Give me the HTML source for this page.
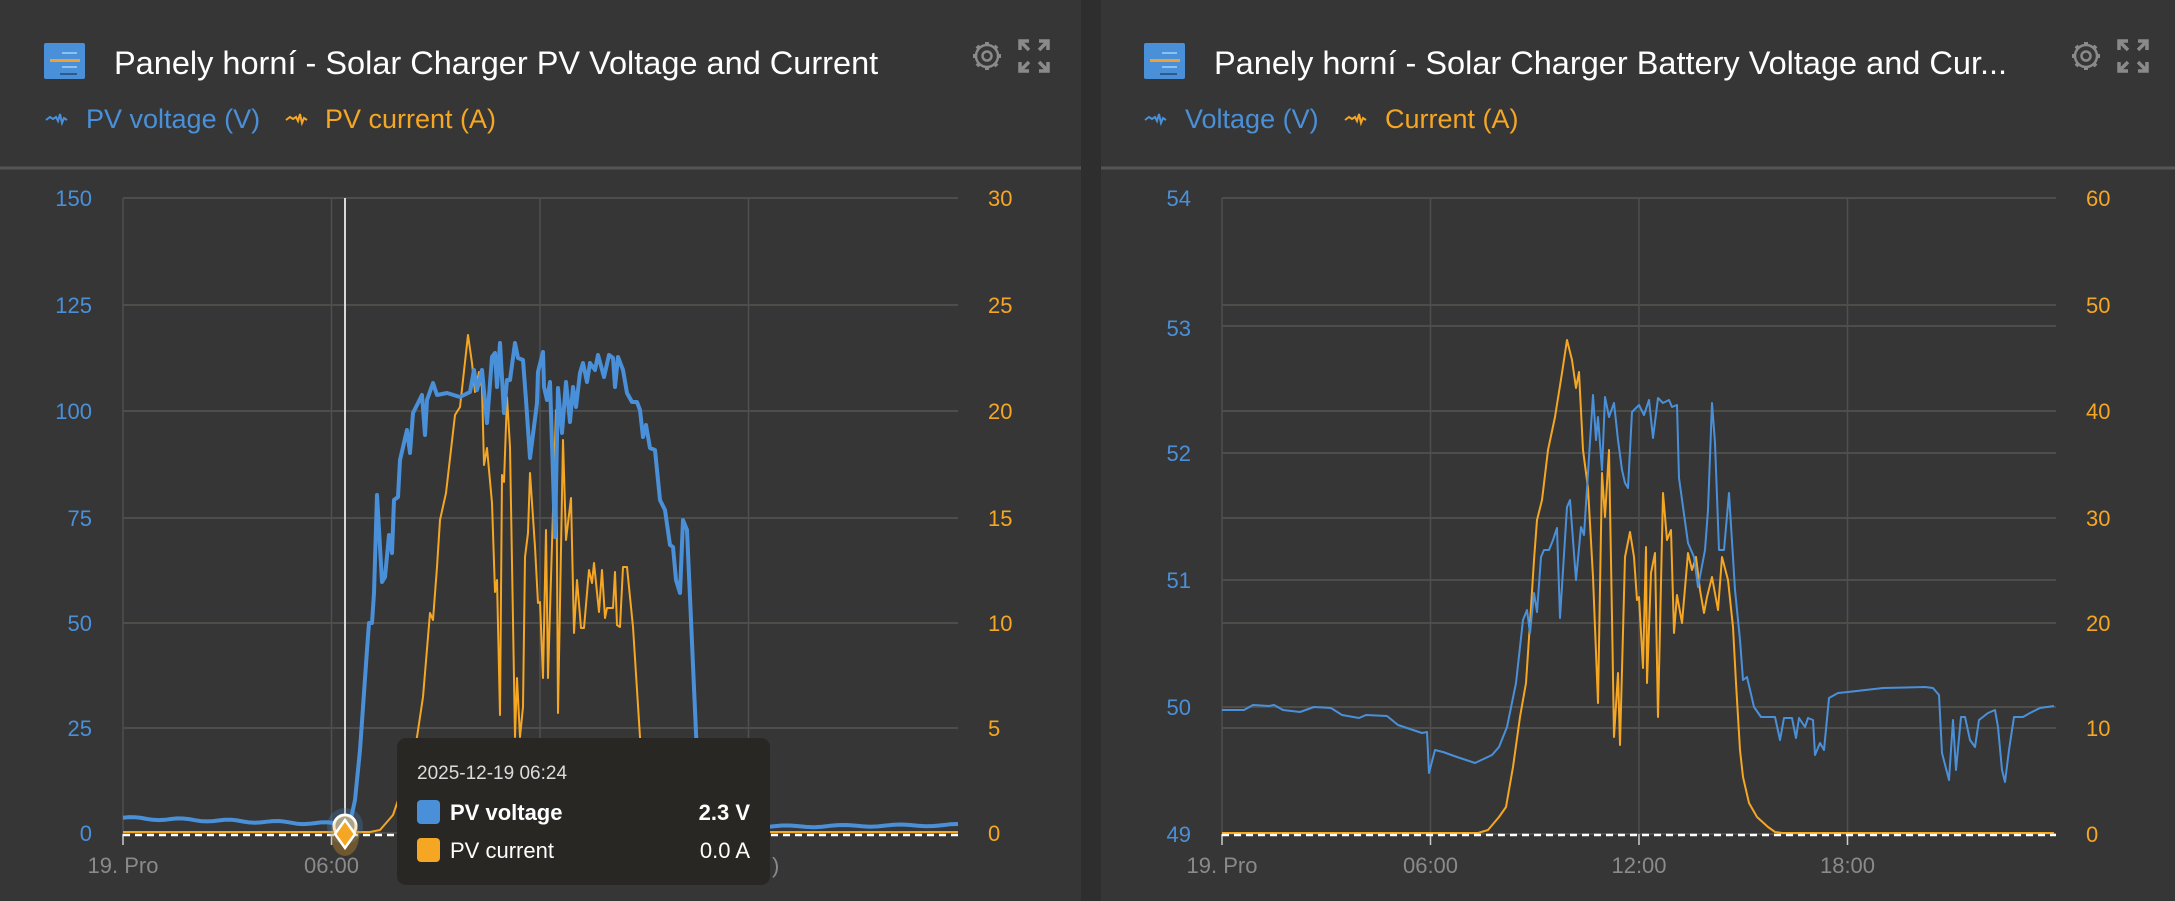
<!DOCTYPE html>
<html><head><meta charset="utf-8">
<style>
html,body{margin:0;padding:0;background:#2e2e2e;width:2175px;height:901px;overflow:hidden;font-family:"Liberation Sans",sans-serif;}
svg{display:block}
</style></head>
<body>
<svg id="s" width="2175" height="901" xmlns="http://www.w3.org/2000/svg" font-family="Liberation Sans, sans-serif">
<rect x="0" y="0" width="1081" height="901" fill="#363636"/>
<rect x="1101" y="0" width="1074" height="901" fill="#363636"/>
<line x1="0" y1="168" x2="1081" y2="168" stroke="#555" stroke-width="3"/>
<line x1="1101" y1="168" x2="2175" y2="168" stroke="#555" stroke-width="3"/>

<g id="ic1">
<rect x="44" y="43" width="41" height="36" rx="2" fill="#4a90d9"/>
<rect x="50" y="59" width="30" height="3" fill="#f0a030"/>
<rect x="62" y="52" width="15" height="2" fill="#8cc0ee"/>
<rect x="62" y="66" width="15" height="2" fill="#8cc0ee"/>
<rect x="60" y="73" width="17" height="2" fill="#2c5a8a"/>
</g>
<use href="#ic1" x="1100"/>
<text x="114" y="74" font-size="32.5" fill="#ffffff">Panely horní - Solar Charger PV Voltage and Current</text>
<text x="1214" y="74" font-size="32.5" fill="#ffffff">Panely horní - Solar Charger Battery Voltage and Cur...</text>
<g id="tools" fill="none" stroke="#8a8a8a" stroke-width="2.5">
<circle cx="987" cy="56" r="11"/><circle cx="987" cy="56" r="4.5"/>
<path d="M987 42v4M987 66v4M973 56h4M997 56h4M977 46l3 3M994 63l3 3M977 66l3-3M994 49l3-3" stroke-width="4"/>
<path d="M1020 50v-9h9M1020 41l9 9M1048 50v-9h-9M1048 41l-9 9M1020 62v9h9M1020 71l9-9M1048 62v9h-9M1048 71l-9-9" stroke-width="3.5"/>
</g>
<use href="#tools" x="1099"/>
<path d="M46 120 l4-3 3 2 3-2 2 4 2-7 2 9 2-5 3 2" fill="none" stroke="#4a90d9" stroke-width="2"/>
<text x="86" y="128" font-size="27" fill="#4a90d9">PV voltage (V)</text>
<path d="M286 120 l4-3 3 2 3-2 2 4 2-7 2 9 2-5 3 2" fill="none" stroke="#f5a623" stroke-width="2"/>
<text x="325" y="128" font-size="27" fill="#f5a623">PV current (A)</text>
<path d="M1145 120 l4-3 3 2 3-2 2 4 2-7 2 9 2-5 3 2" fill="none" stroke="#4a90d9" stroke-width="2"/>
<text x="1185" y="128" font-size="27" fill="#4a90d9">Voltage (V)</text>
<path d="M1345 120 l4-3 3 2 3-2 2 4 2-7 2 9 2-5 3 2" fill="none" stroke="#f5a623" stroke-width="2"/>
<text x="1385" y="128" font-size="27" fill="#f5a623">Current (A)</text>
<g id="grid"></g>
<g id="series"></g>
<g id="over"></g>
</svg>
<script>
var NS="http://www.w3.org/2000/svg";
function el(p,t,a,txt){var e=document.createElementNS(NS,t);for(var k in a)e.setAttribute(k,a[k]);if(txt!=null)e.textContent=txt;document.getElementById(p).appendChild(e);return e;}
var G="grid";
function chart(L,R,hy,leftLabs,rightLabs,xlabs){
  hy.forEach(function(y){el(G,"line",{x1:L,x2:R,y1:y,y2:y,stroke:"#4d4d49","stroke-width":2});});
  for(var i=0;i<4;i++){var x=L+208.5*i;el(G,"line",{x1:x,x2:x,y1:198,y2:834,stroke:"#4f4f4f","stroke-width":1.5});
    el(G,"line",{x1:x,x2:x,y1:834,y2:845,stroke:"#ccc","stroke-width":1.5});
    el(G,"text",{x:x,y:873,"font-size":22,fill:"#8a8a8a","text-anchor":"middle"},xlabs[i]);}
  leftLabs.forEach(function(l){el(G,"text",{x:L-31,y:l[1]+8,"font-size":22,fill:"#4a90d9","text-anchor":"end"},l[0]);});
  rightLabs.forEach(function(l){el(G,"text",{x:R+30,y:l[1]+8,"font-size":22,fill:"#f5a623","text-anchor":"start"},l[0]);});
}
chart(123,958,[198,305,411,518,623,728,833],
 [["150",198],["125",305],["100",411],["75",518],["50",623],["25",728],["0",833]],
 [["30",198],["25",305],["20",411],["15",518],["10",623],["5",728],["0",833]],
 ["19. Pro","06:00","12:00",""]);
chart(1222,2056,[198,326,453,580,707,305,411,518,623,728,834],
 [["54",198],["53",328],["52",453],["51",580],["50",707],["49",834]],
 [["60",198],["50",305],["40",411],["30",518],["20",623],["10",728],["0",834]],
 ["19. Pro","06:00","12:00","18:00"]);
var S="series";
function pl(pts,col,w){el(S,"polyline",{points:pts.map(function(p){return p.join(",")}).join(" "),fill:"none",stroke:col,"stroke-width":w,"stroke-linejoin":"round"});}
var lv=[];
for(var x=123;x<=345;x+=6){lv.push([x,(818+ (x-123)/222*6 + Math.sin(x*0.13)*1.2).toFixed(1)]);}
lv=lv.concat([[350,823],[355,800],[360,750],[367,650],[369,623],[372,623],[374,593],[377,495],[382,582],[385,577],[389,535],[392,553],[394,500],[398,497],[400,460],[407,430],[410,453],[413,413],[422,395],[425,435],[427,400],[433,383],[437,395],[447,393],[460,397],[470,392],[474,370],[477,390],[482,370],[487,423],[492,357],[495,353],[497,387],[500,343],[504,413],[507,380],[510,380],[515,343],[518,358],[523,360],[526,400],[530,458],[537,403],[538,372],[543,352],[544,387],[547,400],[550,382],[555,537],[558,388],[562,433],[566,382],[570,422],[573,387],[576,407],[580,373],[583,363],[587,382],[590,363],[595,370],[598,355],[604,377],[609,355],[613,358],[615,387],[618,357],[623,370],[627,393],[632,402],[637,402],[640,410],[643,437],[646,425],[650,448],[655,450],[660,500],[665,510],[670,545],[673,547],[676,580],[680,593],[683,520],[687,530],[696,733],[700,815],[705,826]]);
for(var x=710;x<=958;x+=8){lv.push([x,(827-(x-710)/248*2+Math.sin(x*0.11)*1).toFixed(1)]);}
var lc=[[123,832],[370,832],[380,830],[393,815],[405,780],[417,737],[423,697],[430,613],[433,620],[437,567],[440,520],[446,493],[455,415],[460,407],[468,335],[472,363],[475,392],[479,372],[482,388],[484,465],[487,448],[492,503],[495,592],[497,580],[500,715],[502,475],[504,482],[507,397],[510,447],[515,737],[517,678],[520,737],[523,707],[525,557],[528,533],[530,473],[535,547],[538,603],[540,602],[543,678],[546,530],[548,678],[556,410],[558,713],[563,440],[566,540],[571,498],[574,633],[577,580],[581,628],[584,628],[589,570],[592,583],[594,563],[599,612],[602,570],[605,618],[607,608],[613,608],[615,572],[617,625],[620,627],[623,567],[627,567],[633,627],[640,737],[648,832],[958,832]];
pl(lc,"#f5a623",2);
pl(lv,"#4a90d9",4);
var rv=[[1222,710],[1244,710],[1253,705],[1269,706],[1274,705],[1283,710],[1300,712],[1314,707],[1331,708],[1342,715],[1359,718],[1366,715],[1387,716],[1398,725],[1422,733],[1427,732],[1429,773],[1435,750],[1443,752],[1457,757],[1475,763],[1492,755],[1499,747],[1507,727],[1516,683],[1523,620],[1527,610],[1530,633],[1534,593],[1537,612],[1541,557],[1544,550],[1549,550],[1553,540],[1557,528],[1560,618],[1567,507],[1570,500],[1576,580],[1581,527],[1584,535],[1588,473],[1593,395],[1596,440],[1598,417],[1602,470],[1605,397],[1609,417],[1614,403],[1618,440],[1622,470],[1625,483],[1628,488],[1632,412],[1639,405],[1644,415],[1649,400],[1653,438],[1658,398],[1663,403],[1669,400],[1672,407],[1677,405],[1679,478],[1688,543],[1694,557],[1698,587],[1705,550],[1708,510],[1712,403],[1715,443],[1719,550],[1724,550],[1729,493],[1735,590],[1740,640],[1743,680],[1747,677],[1754,707],[1761,717],[1775,717],[1780,740],[1784,718],[1792,718],[1796,738],[1799,718],[1805,727],[1808,718],[1813,720],[1815,755],[1820,743],[1824,750],[1829,698],[1838,693],[1848,692],[1883,688],[1925,687],[1933,688],[1939,695],[1942,753],[1949,780],[1953,720],[1956,770],[1961,717],[1965,717],[1970,740],[1975,747],[1979,720],[1988,713],[1995,710],[1998,727],[2002,770],[2005,782],[2009,750],[2014,717],[2023,717],[2030,713],[2040,708],[2054,706]];
var rc=[[1222,833],[1478,833],[1488,830],[1499,817],[1506,807],[1513,767],[1520,717],[1526,683],[1530,623],[1534,560],[1537,520],[1542,500],[1548,450],[1555,417],[1562,373],[1567,340],[1572,360],[1576,388],[1579,372],[1583,450],[1588,488],[1593,577],[1598,703],[1602,473],[1605,517],[1609,450],[1612,617],[1614,737],[1618,673],[1620,745],[1625,557],[1630,532],[1634,557],[1637,600],[1639,597],[1643,668],[1646,547],[1647,683],[1651,573],[1655,553],[1658,717],[1663,493],[1667,540],[1671,530],[1674,633],[1677,595],[1682,623],[1688,553],[1692,570],[1696,557],[1700,590],[1704,613],[1707,597],[1712,577],[1718,610],[1722,557],[1728,580],[1733,627],[1736,683],[1740,750],[1743,777],[1749,803],[1757,817],[1768,827],[1775,832],[1782,833],[2054,833]];
pl(rc,"#f5a623",2);
pl(rv,"#4a90d9",2);
var O="over";
el(O,"line",{x1:123,x2:958,y1:835,y2:835,stroke:"#fff","stroke-width":2.5,"stroke-dasharray":"7,5"});
el(O,"line",{x1:1222,x2:2056,y1:835,y2:835,stroke:"#fff","stroke-width":2.5,"stroke-dasharray":"7,5"});
el(O,"line",{x1:345,x2:345,y1:198,y2:834,stroke:"#d8d8d8","stroke-width":2});
el(O,"circle",{cx:345,cy:826,r:18,fill:"#4a90d9","fill-opacity":0.25});
el(O,"circle",{cx:345,cy:826,r:11,fill:"#8aa4b8",stroke:"#fff","stroke-width":3});
el(O,"ellipse",{cx:345,cy:836,rx:14,ry:20,fill:"#f5a623","fill-opacity":0.3});
el(O,"path",{d:"M345 820 L355 834 L345 848 L335 834 Z",fill:"#f5a623",stroke:"#fff","stroke-width":2.5});
el(O,"rect",{x:397,y:738,width:373,height:147,rx:9,fill:"#282724"});
el(O,"text",{x:417,y:779,"font-size":19,fill:"#dcdcdc"},"2025-12-19 06:24");
el(O,"rect",{x:417,y:800,width:23,height:24,rx:4,fill:"#4a90d9"});
el(O,"rect",{x:417,y:838,width:23,height:24,rx:4,fill:"#f5a623"});
el(O,"text",{x:450,y:820,"font-size":22,"font-weight":"bold",fill:"#fff"},"PV voltage");
el(O,"text",{x:750,y:820,"font-size":22,"font-weight":"bold",fill:"#fff","text-anchor":"end"},"2.3 V");
el(O,"text",{x:450,y:858,"font-size":22,fill:"#fff"},"PV current");
el(O,"text",{x:750,y:858,"font-size":22,fill:"#fff","text-anchor":"end"},"0.0 A");
el(O,"text",{x:772,y:873,"font-size":22,fill:"#8a8a8a"},")");
</script>
</body></html>
